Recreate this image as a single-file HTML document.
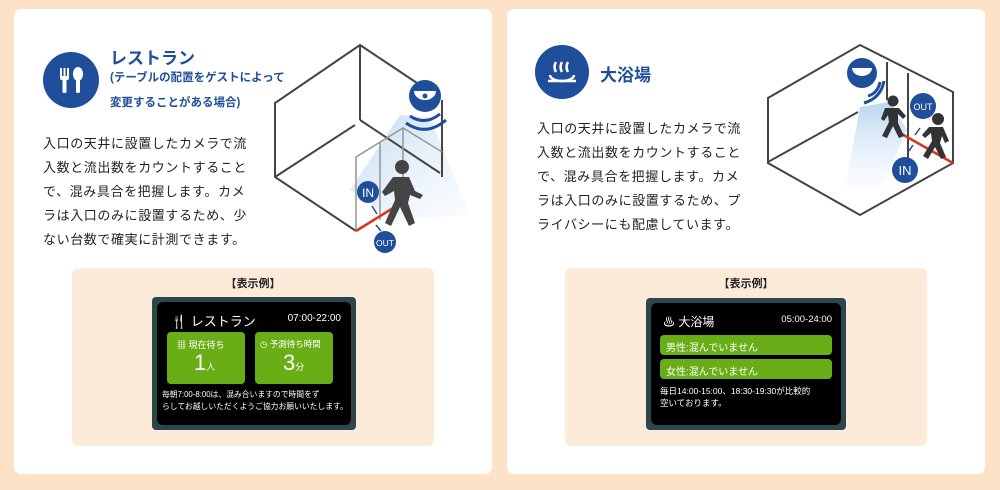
<!DOCTYPE html>
<html><head><meta charset="utf-8"><style>
*{margin:0;padding:0;box-sizing:border-box}
body{width:1000px;height:490px;background:#fde2c8;position:relative;overflow:hidden;font-family:"Liberation Sans","Noto Sans CJK JP",sans-serif;color:#222}
.card{position:absolute;top:9px;width:478px;height:465px;background:#fff;border-radius:7px}
.abs{position:absolute}
.circ{position:absolute;border-radius:50%;background:#1f4f9b}
.title{position:absolute;color:#1f4f9b;font-weight:bold;font-size:17px;white-space:nowrap}
.sub{position:absolute;color:#1f4f9b;font-weight:bold;font-size:11.5px;white-space:nowrap}
.body{position:absolute;font-size:13px;line-height:24px;white-space:nowrap;letter-spacing:.6px}
.panel{position:absolute;background:#fdebd9;border-radius:6px;width:362px;height:178px;top:259px}
.lbl{position:absolute;font-size:11px;font-weight:bold;width:100%;text-align:center;top:7px}
.scr{position:absolute;background:#2c464e;border-radius:4px;padding:5px}
.inner{background:#000;border-radius:6px;width:100%;height:100%;position:relative;color:#fff}
.g{position:absolute;background:#6aae17;border-radius:4px}
</style></head><body>
<div class="card" style="left:14px">
  <div class="circ" style="left:29px;top:43px;width:56px;height:56px"></div>
  <svg class="abs" style="left:29px;top:43px" width="56" height="56" viewBox="0 0 56 56">
    <g fill="#fff"><rect x="17" y="16" width="2" height="9"/><rect x="20.5" y="16" width="2" height="9"/><rect x="24" y="16" width="2" height="9"/><rect x="17" y="24" width="9" height="4" rx="2"/><rect x="19.5" y="26" width="4" height="15" rx="1.5"/>
    <ellipse cx="35" cy="22" rx="5" ry="7"/><rect x="33" y="26" width="4" height="15" rx="1.5"/></g>
  </svg>
  <div class="title" style="left:96px;top:35px">レストラン</div>
  <div class="sub" style="left:96px;top:60px">(テーブルの配置をゲストによって</div>
  <div class="sub" style="left:96px;top:85px">変更することがある場合)</div>
  <div class="body" style="left:29px;top:123px">入口の天井に設置したカメラで流<br>入数と流出数をカウントすること<br>で、混み具合を把握します。カメ<br>ラは入口のみに設置するため、少<br>ない台数で確実に計測できます。</div>
  <div class="panel" style="left:58px">
    <div class="lbl">【表示例】</div>
    <div class="scr" style="left:80px;top:29px;width:204px;height:133px">
      <div class="inner">
        <div class="abs" style="left:14px;top:9px;font-size:13px">🍴 レストラン</div>
        <div class="abs" style="right:10px;top:11px;font-size:10px">07:00-22:00</div>
        <div class="g" style="left:10px;top:30px;width:78px;height:52px">
          <div class="abs" style="left:10px;top:6px;font-size:9px">▦ 現在待ち</div>
          <div class="abs" style="left:27px;top:18px;font-size:22px">1<span style="font-size:9px">人</span></div>
        </div>
        <div class="g" style="left:98px;top:30px;width:78px;height:52px">
          <div class="abs" style="left:5px;top:6px;font-size:8.5px">◷ 予測待ち時間</div>
          <div class="abs" style="left:28px;top:18px;font-size:22px">3<span style="font-size:9px">分</span></div>
        </div>
        <div class="abs" style="left:5px;top:87px;font-size:7.8px;line-height:12px;white-space:nowrap">毎朝7:00-8:00は、混み合いますので時間をず<br>らしてお越しいただくようご協力お願いいたします。</div>
      </div>
    </div>
  </div>
</div>
<div class="card" style="left:507px">
  <div class="circ" style="left:28px;top:36px;width:54px;height:54px"></div>
  <svg class="abs" style="left:28px;top:36px" width="54" height="54" viewBox="0 0 54 54"><g fill="none" stroke="#fff" stroke-width="2.5"><path d="M15 30 a12 6 0 0 0 24 0"/><path d="M13 36 h28"/><path d="M21 27 q-3 -5 0 -10 M27 27 q-3 -5 0 -10 M33 27 q-3 -5 0 -10"/></g></svg>
  <div class="title" style="left:93px;top:52px">大浴場</div>
  <div class="body" style="left:30px;top:108px">入口の天井に設置したカメラで流<br>入数と流出数をカウントすること<br>で、混み具合を把握します。カメ<br>ラは入口のみに設置するため、プ<br>ライバシーにも配慮しています。</div>
  <div class="panel" style="left:58px">
    <div class="lbl">【表示例】</div>
    <div class="scr" style="left:81px;top:30px;width:200px;height:132px">
      <div class="inner">
        <div class="abs" style="left:12px;top:10px;font-size:12px">♨ 大浴場</div>
        <div class="abs" style="right:9px;top:11px;font-size:9.5px">05:00-24:00</div>
        <div class="g" style="left:9px;top:32px;width:172px;height:20px"><div class="abs" style="left:6px;top:4px;font-size:10px">男性:混んでいません</div></div>
        <div class="g" style="left:9px;top:56px;width:172px;height:20px"><div class="abs" style="left:6px;top:4px;font-size:10px">女性:混んでいません</div></div>
        <div class="abs" style="left:9px;top:82px;font-size:8.5px;line-height:12px;white-space:nowrap">毎日14:00-15:00、18:30-19:30が比較的<br>空いております。</div>
      </div>
    </div>
  </div>
</div>
<svg class="abs" style="left:0;top:0" width="1000" height="490" viewBox="0 0 1000 490">
  <defs>
    <linearGradient id="bl" x1="0" y1="0" x2="1" y2="1"><stop offset="0" stop-color="#b9d6f0" stop-opacity=".9"/><stop offset="1" stop-color="#e6f1fb" stop-opacity=".15"/></linearGradient>
    <linearGradient id="b2" x1="0" y1="0" x2="0" y2="1"><stop offset="0" stop-color="#b9d6f0"/><stop offset="1" stop-color="#e6f1fb" stop-opacity=".15"/></linearGradient>
  </defs>
  <polygon points="400,115 430,118 470,215 395,220 350,190" fill="url(#bl)"/>
  <g fill="none" stroke="#444" stroke-width="2">
    <polyline points="417,83 360,45 275,103 275,177 356,231"/>
    <line x1="360" y1="45" x2="360" y2="120"/>
    <line x1="275" y1="177" x2="355" y2="125"/>
    <line x1="360" y1="120" x2="440" y2="173"/>
    <line x1="442" y1="100" x2="442" y2="177"/>
  </g>
  <g fill="none" stroke="#999" stroke-width="1.6">
    <polyline points="356,231 356,157 403,128 442,152"/>
    <line x1="380" y1="143" x2="380" y2="220"/>
    <line x1="403" y1="128" x2="403" y2="190"/>
  </g>
  <line x1="356" y1="231" x2="398" y2="205" stroke="#e0311f" stroke-width="2.5"/>
  <circle cx="425" cy="96" r="16" fill="#1f4f9b"/>
  <path d="M414 91 h22 a11 9 0 0 1 -22 0z" fill="#fff"/><circle cx="425" cy="96" r="2.5" fill="#1f4f9b"/>
  <path d="M410 116 q15 10 30 -2 M406 123 q20 14 40 -3" stroke="#1f4f9b" stroke-width="3" fill="none"/>
  <g fill="#444"><circle cx="402" cy="167" r="7"/><path d="M393 177 l16 0 l6 14 l8 4 l-3 4 l-10 -4 l-2 8 l7 20 l-6 3 l-9 -19 l-9 19 l-6 -3 l10 -23 l-1 -9 l-9 5 l-3 -4z"/></g>
  <circle cx="368" cy="192" r="11" fill="#1f4f9b"/><text x="368" y="197" font-size="12" fill="#fff" text-anchor="middle" font-family="Liberation Sans">IN</text>
  <circle cx="385" cy="242" r="11" fill="#1f4f9b"/><text x="385" y="246" font-size="8.5" fill="#fff" text-anchor="middle" font-family="Liberation Sans">OUT</text>
  <path d="M372 206 l5 8 M376 225 l5 6" stroke="#1f4f9b" stroke-width="1.5"/>
  <polygon points="860,107 890,102 907,130 880,190 845,190" fill="url(#b2)"/>
  <g fill="none" stroke="#444" stroke-width="2">
    <polygon points="860,45 953,92 953,163 860,215 768,163 768,98"/>
    <line x1="768" y1="162" x2="858" y2="112"/>
    <line x1="887" y1="62" x2="887" y2="100"/>
    <line x1="908" y1="73" x2="908" y2="160"/>
  </g>
  <line x1="900" y1="133" x2="953" y2="163" stroke="#e0311f" stroke-width="2.5"/>
  <circle cx="862" cy="73" r="15" fill="#1f4f9b"/><path d="M852 68 h20 a10 8 0 0 1 -20 0z" fill="#fff"/>
  <path d="M868 96 q10 -3 12 -14 M864 103 q17 -5 20 -22" stroke="#1f4f9b" stroke-width="3" fill="none"/>
  <g fill="#333"><circle cx="893" cy="101" r="5.5"/><path d="M885 108 l14 0 l7 8 l-3 3 l-5 -5 l0 9 l6 13 l-5 2 l-6 -12 l-6 12 l-5 -2 l7 -14 l-1 -7 l-4 6 l-3 -2z"/>
  <circle cx="938" cy="119" r="6"/><path d="M929 127 l14 0 l6 14 l-4 2 l-3 -7 l-2 7 l6 14 l-5 2 l-6 -12 l-7 12 l-5 -3 l9 -15 l-1 -8 l-6 5 l-3 -3z"/></g>
  <circle cx="923" cy="106" r="13" fill="#1f4f9b"/><text x="923" y="110" font-size="9" fill="#fff" text-anchor="middle" font-family="Liberation Sans">OUT</text>
  <circle cx="905" cy="170" r="13" fill="#1f4f9b"/><text x="905" y="175" font-size="13" fill="#fff" text-anchor="middle" font-family="Liberation Sans">IN</text>
  <path d="M920 128 l-5 7 M913 145 l-4 6" stroke="#1f4f9b" stroke-width="1.5"/>
</svg>
</body></html>
